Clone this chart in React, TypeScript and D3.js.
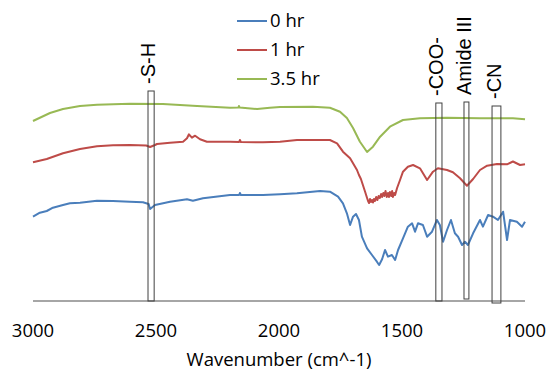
import React from "react";
import * as d3 from "d3";

const seriesNames = ["0 hr", "1 hr", "3.5 hr"];
const seriesColors = ["#4A7EBB", "#BE4B48", "#98B954"];

// [wavenumber (cm^-1), transmittance (a.u., offset)]
const data0hr: [number, number][] = [
  [3000, 84.3], [2972, 88.3], [2944, 90], [2919, 93.3], [2878, 96], [2850, 97.7], [2809, 98.3],
  [2740, 100.3], [2675, 100], [2606, 99.3], [2553, 98.7], [2530, 97], [2524, 92], [2504, 96],
  [2443, 99.3], [2374, 101.7], [2350, 100.3], [2309, 102.7], [2199, 106], [2162, 106], [2159, 108],
  [2155, 106], [2065, 106], [1996, 106.7], [1927, 107.7], [1833, 110], [1793, 109.3], [1760, 104.3],
  [1740, 97.7], [1724, 87.7], [1711, 76], [1699, 84.3], [1687, 87], [1675, 81], [1663, 64.3],
  [1642, 52.7], [1622, 46], [1602, 39.3], [1593, 36], [1581, 41.7], [1569, 51], [1557, 44.3],
  [1541, 46], [1528, 41], [1516, 51], [1496, 62.7], [1476, 74.3], [1459, 77.7], [1447, 69.3],
  [1435, 77.7], [1415, 76], [1398, 64.3], [1378, 69.3], [1358, 81], [1346, 76], [1333, 59.3],
  [1317, 71], [1301, 81], [1285, 67.7], [1272, 64.3], [1256, 56], [1244, 59.3], [1232, 56],
  [1211, 67.7], [1183, 81], [1171, 74.3], [1150, 86], [1130, 84.3], [1110, 81], [1089, 89.3],
  [1073, 61], [1061, 81], [1033, 79.3], [1012, 74.3], [1000, 79.3],
];

const data1hr: [number, number][] = [
  [3000, 138.7], [2944, 142], [2878, 147.7], [2809, 152], [2740, 154.7], [2675, 155.7], [2606, 156],
  [2540, 155.5], [2524, 154], [2504, 156], [2496, 157], [2443, 158.3], [2390, 159.3], [2374, 162.7],
  [2366, 166.7], [2354, 163.3], [2341, 165.3], [2321, 161.7], [2293, 159.3], [2199, 159.3],
  [2162, 159], [2159, 161], [2155, 159], [2065, 158.7], [1996, 159.3], [1927, 161], [1793, 161],
  [1764, 157.7], [1740, 149.3], [1711, 142.7], [1683, 131], [1675, 126], [1667, 122], [1659, 116],
  [1651, 110], [1642, 103], [1638, 100], [1634, 98], [1630, 102], [1626, 99], [1622, 101],
  [1618, 98.5], [1614, 102], [1610, 100], [1605, 104], [1600, 101], [1595, 105], [1590, 103],
  [1585, 107], [1581, 104], [1576, 108], [1572, 105], [1567, 110], [1562, 104], [1557, 108],
  [1553, 104], [1549, 109], [1544, 105], [1540, 110], [1537, 104], [1532, 108], [1528, 106],
  [1520, 113], [1508, 121], [1496, 129.3], [1476, 134.3], [1455, 136], [1427, 132.7], [1398, 121],
  [1374, 129.3], [1354, 132.7], [1317, 131], [1293, 128.7], [1264, 122.7], [1236, 115.3],
  [1211, 122], [1183, 131], [1154, 135.3], [1114, 137], [1073, 136.7], [1049, 139.5], [1020, 136],
  [1000, 136.7],
];

const data3_5hr: [number, number][] = [
  [3000, 180], [2931, 188], [2878, 192], [2809, 195], [2740, 196.3], [2606, 197.3], [2472, 197],
  [2333, 195], [2199, 193.3], [2165, 193.5], [2163, 195], [2160, 193.5], [2089, 192], [2037, 193.3],
  [1996, 194], [1862, 194.3], [1793, 193.3], [1752, 189.3], [1724, 183], [1699, 173], [1671, 159.3],
  [1642, 149], [1618, 154.3], [1589, 164.3], [1549, 174.3], [1496, 181], [1427, 182.7],
  [1317, 183.3], [1183, 182.7], [1049, 182.7], [1000, 181.7],
];

const allSeries = [data0hr, data1hr, data3_5hr];

const xTicks = [3000, 2500, 2000, 1500, 1000];

const bandLabels = ["-S-H", "-COO-", "Amide III", "-CN"];
const bandCenters = [2520, 1350, 1238, 1116];
const bandWidths = [25, 25, 20, 36];
const bandTops = [210, 198, 199, 195];
const bandBottoms = [0, 0, 2, -2];

export default function App() {
  const W = 550;
  const H = 376;
  const x = d3.scaleLinear().domain([3000, 1000]).range([33, 525]);
  const y = d3.scaleLinear().domain([0, 210]).range([301, 91]);
  const line = d3
    .line<[number, number]>()
    .x((d) => x(d[0]))
    .y((d) => y(d[1]));

  return (
    <svg
      width={W}
      height={H}
      style={{ position: "absolute", left: 0, top: 0, background: "#fff" }}
    >
      {/* axis line */}
      <line x1={x(3000)} x2={x(1000)} y1={y(0)} y2={y(0)} stroke="#888" strokeWidth={1.3} />
      {xTicks.map((t) => (
        <text
          key={t}
          x={x(t)}
          y={337}
          textAnchor="middle"
          fontFamily="Open Sans"
          fontSize={18.5}
          fill="#000"
        >
          {t}
        </text>
      ))}
      <text x={279} y={366} textAnchor="middle" fontFamily="Open Sans" fontSize={18.5} fill="#000">
        Wavenumber (cm^-1)
      </text>

      {/* series */}
      {allSeries.map((s, i) => (
        <path
          key={i}
          d={line(s) || ""}
          fill="none"
          stroke={seriesColors[i]}
          strokeWidth={2}
          strokeLinejoin="round"
        />
      ))}

      {/* band boxes */}
      {bandLabels.map((lab, i) => {
        const x0 = x(bandCenters[i] + bandWidths[i] / 2);
        const x1 = x(bandCenters[i] - bandWidths[i] / 2);
        const yt = y(bandTops[i]);
        const yb = y(bandBottoms[i]);
        const cx = (x0 + x1) / 2 - 3;
        const ty = yt - 7;
        return (
          <g key={lab}>
            <rect x={x0} y={yt} width={x1 - x0} height={yb - yt} fill="none" stroke="#404040" strokeWidth={1} />
            <text
              transform={`translate(${cx},${ty}) rotate(-90)`}
              dy="0.36em"
              fontFamily="Liberation Sans"
              fontSize={20}
              fill="#000"
            >
              {lab}
            </text>
          </g>
        );
      })}

      {/* legend */}
      {seriesNames.map((n, i) => (
        <g key={n} transform={`translate(237,${21 + i * 29})`}>
          <line x1={0} x2={30} y1={0} y2={0} stroke={seriesColors[i]} strokeWidth={2} />
          <text x={33} y={0} dy="0.35em" fontFamily="Open Sans" fontSize={18.5} fill="#000">
            {n}
          </text>
        </g>
      ))}
    </svg>
  );
}
